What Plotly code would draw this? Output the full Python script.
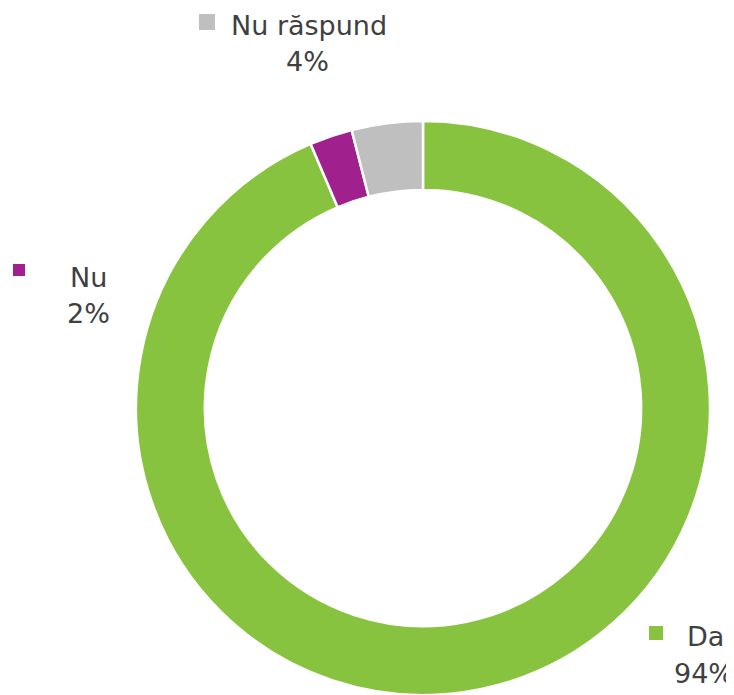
import plotly.graph_objects as go

labels = ["Da", "Nu", "Nu răspund"]
values = [93.6, 2.4, 4.0]
pct_text = ["94%", "2%", "4%"]
colors = ["#87C33F", "#A0208E", "#BFBFBF"]

# page is 734x695; the html body has an 8px margin, so the figure is a bit smaller
OFF = 8
W, H = 734 - OFF, 695 - OFF
cx, cy, R = 423 - OFF, 408 - OFF, 287

fig = go.Figure(go.Pie(
    labels=labels, values=values, sort=False, direction="clockwise", rotation=0,
    hole=0.76, textinfo="none", hoverinfo="label+percent",
    marker=dict(colors=colors, line=dict(color="white", width=2.5)),
    domain=dict(x=[(cx - R) / W, (cx + R) / W], y=[max(0, (H - cy - R) / H), (H - cy + R) / H]),
    showlegend=False,
))

font = dict(family="DejaVu Sans", size=27, color="#404040")
# label positions (page pixels): name center, pct center, square center, square size
lab_pos = {
    "Da": ((705, 636), (704, 673), (656, 633), 14),
    "Nu": ((88, 277), (88, 314), (19, 270), 12),
    "Nu răspund": ((309, 25), (307, 62), (207, 22), 16),
}
anns, shapes = [], []
for lab, pct, col in zip(labels, pct_text, colors):
    (nx, ny), (px, py), (sx, sy), s = lab_pos[lab]
    nx, ny, px, py, sx, sy = [v - OFF for v in (nx, ny, px, py, sx, sy)]
    anns.append(dict(x=nx / W, y=1 - ny / H, xref="paper", yref="paper", text=lab,
                     showarrow=False, font=font, xanchor="center", yanchor="middle"))
    anns.append(dict(x=px / W, y=1 - py / H, xref="paper", yref="paper", text=pct,
                     showarrow=False, font=font, xanchor="center", yanchor="middle"))
    shapes.append(dict(type="rect", xref="paper", yref="paper",
                       x0=(sx - s / 2) / W, x1=(sx + s / 2) / W,
                       y0=1 - (sy + s / 2) / H, y1=1 - (sy - s / 2) / H,
                       fillcolor=col, line=dict(width=0)))

fig.update_layout(width=W, height=H, margin=dict(l=0, r=0, t=0, b=0),
                  paper_bgcolor="white", plot_bgcolor="white",
                  annotations=anns, shapes=shapes)
fig.write_html("out.html")
